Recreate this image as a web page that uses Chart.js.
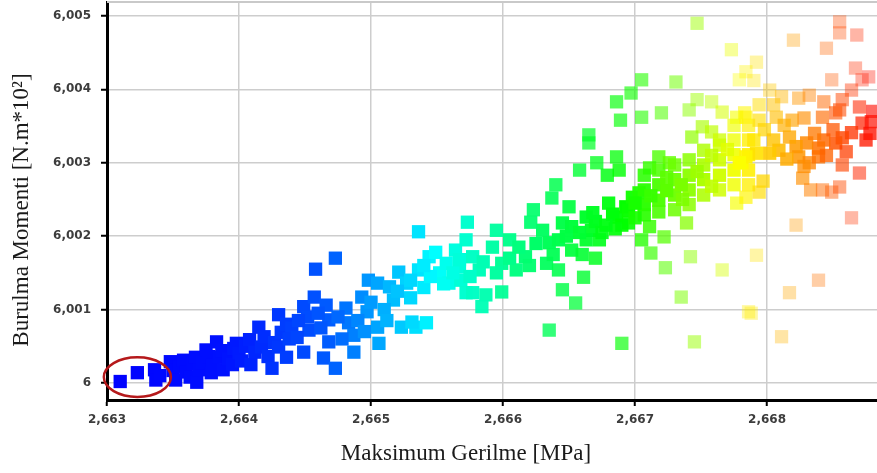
<!DOCTYPE html>
<html><head><meta charset="utf-8">
<script src="https://cdn.jsdelivr.net/npm/chart.js@4.4.1/dist/chart.umd.min.js"></script>
<style>html,body{margin:0;padding:0;background:#fff;}#wrap{width:877px;height:473px;position:relative;}</style>
</head><body><div id="wrap"><canvas id="c" width="877" height="473"></canvas></div>
<script>
// Maksimum Gerilme [MPa] (x)
const stressValues = [
2.66310,2.66323,2.66336,2.66337,2.66340,2.66348,2.66350,2.66352,2.66355,2.66358,
2.66360,2.66363,2.66365,2.66367,2.66368,2.66370,2.66372,2.66375,2.66377,2.66379,
2.66380,2.66383,2.66385,2.66387,2.66388,2.66392,2.66395,2.66396,2.66398,2.66400,
2.66402,2.66405,2.66408,2.66409,2.66412,2.66415,2.66417,2.66419,2.66422,2.66425,
2.66427,2.66430,2.66430,2.66432,2.66436,2.66440,2.66438,2.66436,2.66449,2.66452,
2.66453,2.66449,2.66457,2.66466,2.66468,2.66468,2.66464,2.66473,2.66481,2.66483,
2.66487,2.66487,2.66493,2.66498,2.66497,2.66505,2.66506,2.66505,2.66514,2.66517,
2.66521,2.66523,2.66527,2.66530,2.66534,2.66536,2.66542,2.66544,2.66549,2.66552,
2.66557,2.66559,2.66564,2.66567,2.66568,2.66572,2.66572,2.66458,2.66473,2.66536,
2.66573,2.66445,2.66460,2.66475,2.66490,2.66500,2.66510,2.66520,2.66530,2.66540,
2.66545,2.66555,2.66562,2.66531,2.66444,2.66462,2.66478,2.66512,2.66495,2.66540,
2.66567,2.66577,2.66582,2.66592,2.66605,2.66599,2.66610,2.66617,2.66630,2.66635,
2.66633,2.66645,2.66652,2.66642,2.66652,2.66642,2.66663,2.66667,2.66673,2.66663,
2.66680,2.66686,2.66693,2.66698,2.66695,2.66703,2.66575,2.66585,2.66595,2.66605,
2.66612,2.66620,2.66625,2.66638,2.66648,2.66658,2.66670,2.66675,2.66683,2.66690,
2.66660,2.66595,2.66623,2.66621,2.66640,2.66637,2.66650,2.66577,2.66587,2.66584,
2.66599,2.66645,2.66655,2.66661,2.66670,2.66635,2.66690,2.66665,2.66665,2.66658,
2.66671,2.66679,2.66686,2.66688,2.66747,2.66773,2.66705,2.66731,2.66697,2.66686,
2.66689,2.66705,2.66720,2.66741,2.66747,2.66758,2.66766,2.66779,2.66784,2.66751,
2.66758,2.66743,2.66783,2.66718,2.66726,2.66711,2.66739,2.66742,2.66723,2.66712,
2.66705,2.66722,2.66711,2.66766,2.66735,2.66745,2.66786,2.66777,2.66784,2.66707,
2.66707,2.66707,2.66707,2.66718,2.66718,2.66718,2.66718,2.66730,2.66730,2.66730,
2.66730,2.66741,2.66741,2.66741,2.66741,2.66752,2.66752,2.66752,2.66752,2.66764,
2.66764,2.66764,2.66764,2.66775,2.66775,2.66775,2.66775,2.66786,2.66786,2.66786,
2.66786,2.66786,2.66777,2.66764,2.66775,2.66712,2.66724,2.66735,2.66747,2.66758,
2.66770,2.66781,2.66724,2.66736,2.66758,2.66855,2.66855,2.66868,2.66820,2.66845,
2.66792,2.66790,2.66849,2.66867,2.66872,2.66877,2.66864,2.66857,2.66870,2.66802,
2.66811,2.66824,2.66832,2.66843,2.66855,2.66784,2.66794,2.66807,2.66819,2.66828,
2.66842,2.66852,2.66872,2.66879,2.66875,2.66864,2.66857,2.66852,2.66843,2.66839,
2.66830,2.66822,2.66817,2.66809,2.66802,2.66792,2.66784,2.66779,2.66824,2.66832,
2.66839,2.66857,2.66870,2.66827,2.66833,2.66842,2.66849,2.66855,2.66794,2.66797,
2.66864,2.66822,2.66792,2.66839,2.66817,2.66788,2.66811,2.66798,2.66805,2.66790,
2.66813,2.66794,2.66805,2.66880,2.66878,2.66845,2.66850,2.66860,2.66836,2.66815,
2.66828,2.66695,2.66700,2.66685,2.66700,2.66678,2.66668
];
// Burulma Momenti [N.m*10^2] (y)
const torqueValues = [
6.00002,6.00014,6.00018,6.00004,6.00010,6.00029,6.00017,6.00004,6.00022,6.00031,
6.00015,6.00008,6.00026,6.00035,6.00001,6.00018,6.00028,6.00045,6.00036,6.00014,
6.00024,6.00056,6.00035,6.00044,6.00018,6.00033,6.00025,6.00047,6.00054,6.00041,
6.00030,6.00050,6.00059,6.00025,6.00042,6.00076,6.00049,6.00063,6.00036,6.00020,
6.00055,6.00093,6.00049,6.00069,6.00080,6.00075,6.00060,6.00035,6.00104,6.00090,
6.00072,6.00042,6.00117,6.00106,6.00086,6.00056,6.00034,6.00020,6.00102,6.00082,
6.00065,6.00042,6.00117,6.00140,6.00097,6.00076,6.00054,6.00136,6.00131,6.00113,
6.00151,6.00076,6.00136,6.00116,6.00076,6.00154,6.00082,6.00172,6.00178,6.00150,
6.00163,6.00136,6.00181,6.00158,6.00140,6.00195,6.00123,6.00155,6.00170,6.00206,
6.00219,6.00085,6.00095,6.00090,6.00085,6.00110,6.00100,6.00125,6.00140,6.00130,
6.00145,6.00135,6.00150,6.00083,6.00062,6.00075,6.00060,6.00085,6.00070,6.00160,
6.00168,6.00172,6.00154,6.00185,6.00195,6.00163,6.00154,6.00172,6.00208,6.00191,
6.00163,6.00218,6.00213,6.00195,6.00181,6.00154,6.00226,6.00208,6.00195,6.00195,
6.00245,6.00226,6.00240,6.00253,6.00218,6.00259,6.00145,6.00165,6.00150,6.00170,
6.00185,6.00160,6.00190,6.00175,6.00200,6.00205,6.00220,6.00205,6.00230,6.00215,
6.00175,6.00208,6.00236,6.00219,6.00270,6.00252,6.00240,6.00123,6.00120,6.00104,
6.00124,6.00127,6.00109,6.00144,6.00170,6.00072,6.00054,6.00338,6.00327,6.00290,
6.00300,6.00283,6.00308,6.00290,6.00490,6.00454,6.00413,6.00410,6.00395,6.00383,
6.00358,6.00362,6.00368,6.00372,6.00386,6.00383,6.00369,6.00413,6.00424,6.00349,
6.00342,6.00335,6.00368,6.00308,6.00300,6.00293,6.00218,6.00172,6.00157,6.00177,
6.00195,6.00199,6.00213,6.00154,6.00117,6.00056,6.00097,6.00245,6.00253,6.00283,
6.00263,6.00243,6.00229,6.00290,6.00270,6.00249,6.00233,6.00297,6.00277,6.00256,
6.00236,6.00304,6.00283,6.00263,6.00243,6.00317,6.00297,6.00277,6.00256,6.00324,
6.00304,6.00283,6.00263,6.00331,6.00311,6.00290,6.00270,6.00351,6.00331,6.00311,
6.00290,6.00270,6.00362,6.00331,6.00351,6.00255,6.00262,6.00270,6.00288,6.00310,
6.00318,6.00300,6.00280,6.00250,6.00268,6.00492,6.00477,6.00474,6.00467,6.00456,
6.00437,6.00412,6.00413,6.00429,6.00413,6.00417,6.00399,6.00386,6.00376,6.00399,
6.00390,6.00388,6.00392,6.00383,6.00372,6.00362,6.00358,6.00362,6.00358,6.00361,
6.00362,6.00368,6.00354,6.00356,6.00331,6.00341,6.00334,6.00327,6.00331,6.00320,
6.00327,6.00322,6.00335,6.00317,6.00313,6.00313,6.00308,6.00300,6.00308,6.00300,
6.00308,6.00297,6.00286,6.00279,6.00263,6.00263,6.00260,6.00267,6.00260,6.00275,
6.00225,6.00215,6.00174,6.00140,6.00123,6.00095,6.00063,6.00345,6.00331,6.00331,
6.00351,6.00379,6.00379,6.00370,6.00340,6.00310,6.00345,6.00315,6.00340,6.00305,
6.00295,6.00235,6.00245,6.00210,6.00225,6.00215,6.00232
];
const xTickValues = [2.663, 2.664, 2.665, 2.666, 2.667, 2.668];
const xTickLabels = ['2,663', '2,664', '2,665', '2,666', '2,667', '2,668'];
const yTickValues = [6, 6.001, 6.002, 6.003, 6.004, 6.005];
const yTickLabels = ['6', '6,001', '6,002', '6,003', '6,004', '6,005'];
const xAxisTitle = 'Maksimum Gerilme [MPa]';
const yAxisTitle = 'Burulma Momenti [N.m*10²]';
// highlighted start region (data units)
const highlightCenter = [2.66323, 6.00008];
const highlightRadius = [0.000254, 0.00027];

// ---- styling rules ----
const hueStops = [[0,240],[0.9,236],[1.7,218],[2.45,182],[3.1,150],[3.95,118],[4.4,88],[4.83,58],[5.3,32],[5.85,0]];
const trendStops = [[0,0.1],[1,0.4],[2,1.0],[3,1.7],[4,2.45],[4.8,3.0],[5.85,3.4]];
function interp(stops, t) {
  if (t <= stops[0][0]) return stops[0][1];
  for (let i = 1; i < stops.length; i++) {
    if (t <= stops[i][0]) {
      const a = stops[i-1], b = stops[i];
      return a[1] + (b[1]-a[1]) * (t - a[0]) / (b[0]-a[0]);
    }
  }
  return stops[stops.length-1][1];
}
const clamp = (v, a, b) => Math.max(a, Math.min(b, v));
function pointColor(ctx) {
  const p = ctx.raw;
  if (!p) return '#0000ff';
  const u = (p.x - xTickValues[0]) * 1000;
  const v = (p.y - yTickValues[0]) * 1000;
  const h = interp(hueStops, u);
  const d = Math.abs(v - interp(trendStops, u));
  const fade = clamp((u - 2.6) / 2.2, 0, 1);
  let a = 1 - fade * Math.min(1, d / 1.0) * 0.6 - 0.2 * clamp((u - 4.6) / 1.2, 0, 1);
  a = Math.max(0.35, a);
  return `hsla(${h.toFixed(1)},100%,50%,${a.toFixed(2)})`;
}

const points = stressValues.map((x, i) => ({ x: x, y: torqueValues[i] }));

const decorPlugin = {
  id: 'decor',
  beforeDatasetsDraw(chart) {
    const { ctx, chartArea } = chart;
    ctx.save();
    ctx.strokeStyle = '#c9c9c9';
    ctx.lineWidth = 2;
    ctx.beginPath();
    ctx.moveTo(chartArea.left, chartArea.top);
    ctx.lineTo(chartArea.right, chartArea.top);
    ctx.stroke();
    ctx.restore();
  },
  afterDraw(chart) {
    const { ctx } = chart;
    const xs = chart.scales.x, ys = chart.scales.y;
    const cx = xs.getPixelForValue(highlightCenter[0]);
    const cy = ys.getPixelForValue(highlightCenter[1]);
    const rx = Math.abs(xs.getPixelForValue(highlightCenter[0] + highlightRadius[0]) - cx);
    const ry = Math.abs(ys.getPixelForValue(highlightCenter[1] + highlightRadius[1]) - cy);
    ctx.save();
    ctx.strokeStyle = '#b5191b';
    ctx.lineWidth = 2.5;
    ctx.beginPath();
    ctx.ellipse(cx, cy, rx, ry, 0, 0, Math.PI * 2);
    ctx.stroke();
    ctx.fillStyle = '#1b1b1b';
    ctx.font = '23px "Liberation Serif", "Times New Roman", serif';
    ctx.textAlign = 'center';
    ctx.textBaseline = 'middle';
    ctx.fillText(xAxisTitle, 466, 454);
    ctx.translate(22, 210);
    ctx.rotate(-Math.PI / 2);
    ctx.fillText(yAxisTitle, 0, 0);
    ctx.restore();
  }
};

const tickFont = { family: '"DejaVu Sans", Verdana, sans-serif', size: 12, weight: 'bold' };
function zeroPadding(scale) {
  scale.paddingTop = 0; scale.paddingBottom = 0; scale.paddingLeft = 0; scale.paddingRight = 0;
}

new Chart(document.getElementById('c'), {
  type: 'scatter',
  data: {
    datasets: [{
      data: points,
      pointStyle: 'rect',
      pointRadius: 9.4,
      pointBorderWidth: 0,
      backgroundColor: pointColor,
      borderColor: 'rgba(0,0,0,0)'
    }]
  },
  options: {
    responsive: false,
    devicePixelRatio: 1,
    animation: false,
    events: [],
    layout: { autoPadding: false, padding: { top: 2, right: 0, bottom: 0, left: 0 } },
    plugins: { legend: { display: false }, tooltip: { enabled: false } },
    scales: {
      x: {
        type: 'linear',
        min: 2.663,
        max: 2.668833,
        afterBuildTicks: (scale) => { scale.ticks = xTickValues.map(v => ({ value: v })); },
        afterFit: (scale) => { scale.height = 73; zeroPadding(scale); },
        ticks: {
          callback: (value, index) => xTickLabels[index],
          font: tickFont,
          color: '#3d3d3d',
          padding: 7,
          maxRotation: 0,
          autoSkip: false
        },
        grid: { color: '#cdcdcd', lineWidth: 1.5, tickColor: '#000', tickLength: 6, tickWidth: 2 },
        border: { color: '#000', width: 3 }
      },
      y: {
        type: 'linear',
        min: 5.999768,
        max: 6.00519,
        afterBuildTicks: (scale) => { scale.ticks = yTickValues.map(v => ({ value: v })); },
        afterFit: (scale) => { scale.width = 107; zeroPadding(scale); },
        ticks: {
          callback: (value, index) => yTickLabels[index],
          font: tickFont,
          color: '#3d3d3d',
          padding: 10,
          autoSkip: false
        },
        grid: { color: '#cdcdcd', lineWidth: 1.5, tickColor: '#000', tickLength: 6, tickWidth: 2 },
        border: { color: '#000', width: 3 }
      }
    }
  },
  plugins: [decorPlugin]
});
</script>
</body></html>
